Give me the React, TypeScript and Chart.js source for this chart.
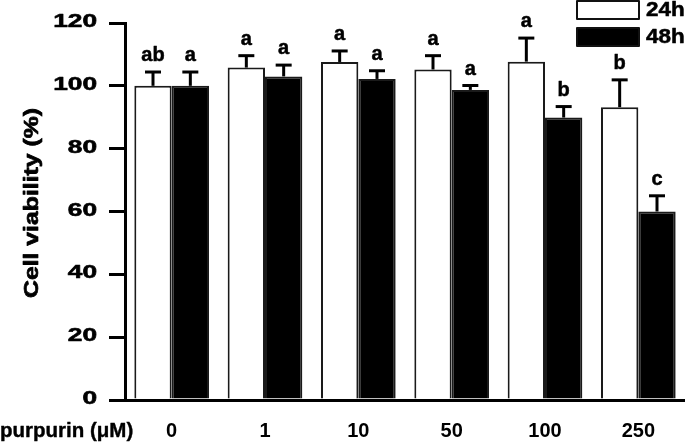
import React, { useEffect, useRef } from 'react';
import { Chart, registerables } from 'chart.js';
Chart.register(...registerables);

const categories = ['0', '1', '10', '50', '100', '250'];
const viability24h = [100, 105.8, 107.6, 105.2, 107.7, 93.2];
const error24h = [4.4, 3.8, 3.5, 4.4, 7.5, 8.7];
const letters24h = ['ab', 'a', 'a', 'a', 'a', 'b'];
const viability48h = [100, 103, 102.2, 98.7, 89.9, 60];
const error48h = [4.4, 3.6, 2.6, 1.4, 3.5, 5];
const letters48h = ['a', 'a', 'a', 'a', 'b', 'c'];
const yTicks = [0, 20, 40, 60, 80, 100, 120];
const seriesLabels = ['24h', '48h'];
const yTitle = 'Cell viability (%)';
const xTitle = 'purpurin (μM)';

const FAMILY = '"Liberation Sans", Arial, Helvetica, sans-serif';
const errors = [error24h, error48h];
const letters = [letters24h, letters48h];

function boldText(ctx: any, text: string, x: number, y: number, w = 0.7) {
  ctx.lineWidth = w;
  ctx.strokeStyle = '#000';
  ctx.lineJoin = 'round';
  ctx.strokeText(text, x, y);
  ctx.fillText(text, x, y);
}

const extrasPlugin = {
  id: 'extras',
  afterDatasetsDraw(chart: any) {
    const ctx = chart.ctx;
    const yScale = chart.scales.y;
    ctx.save();
    chart.data.datasets.forEach((ds: any, di: number) => {
      const meta = chart.getDatasetMeta(di);
      meta.data.forEach((bar: any, i: number) => {
        const v = ds.data[i];
        const e = errors[di][i];
        const yTop = yScale.getPixelForValue(v + e);
        const x = bar.x;
        ctx.strokeStyle = '#000';
        ctx.lineWidth = 3;
        ctx.beginPath();
        ctx.moveTo(x, bar.y);
        ctx.lineTo(x, yTop);
        ctx.stroke();
        ctx.beginPath();
        ctx.moveTo(x - 8, yTop);
        ctx.lineTo(x + 8, yTop);
        ctx.stroke();
        ctx.fillStyle = '#000';
        ctx.font = `bold 20px ${FAMILY}`;
        ctx.textAlign = 'center';
        ctx.textBaseline = 'alphabetic';
        boldText(ctx, letters[di][i], x, yTop - 11, 0.5);
      });
    });
    ctx.restore();
  },
  afterDraw(chart: any) {
    const ctx = chart.ctx;
    const yScale = chart.scales.y;
    ctx.save();
    ctx.fillStyle = '#000';
    // y tick labels
    ctx.font = `bold 18.5px ${FAMILY}`;
    ctx.textAlign = 'right';
    ctx.textBaseline = 'middle';
    yScale.ticks.forEach((t: any) => {
      const y = yScale.getPixelForValue(t.value);
      ctx.save();
      ctx.translate(97, y - 1);
      ctx.scale(1.42, 1);
      boldText(ctx, String(t.value), 0, 0, 0.6);
      ctx.restore();
    });
    // y title
    ctx.save();
    ctx.translate(33, 203);
    ctx.rotate(-Math.PI / 2);
    ctx.scale(1.27, 1);
    ctx.font = `bold 19.5px ${FAMILY}`;
    ctx.textAlign = 'center';
    ctx.textBaseline = 'middle';
    boldText(ctx, yTitle, 0, 0, 0.7);
    ctx.restore();
    // x title
    ctx.font = `bold 20.5px ${FAMILY}`;
    ctx.textAlign = 'left';
    ctx.textBaseline = 'middle';
    boldText(ctx, xTitle, 0, 431, 0.4);
    // legend
    const boxes = [
      { y: 1, fill: '#fff' },
      { y: 28, fill: '#000' },
    ];
    boxes.forEach((b, i) => {
      ctx.fillStyle = b.fill;
      ctx.fillRect(577, b.y, 62, 18);
      ctx.strokeStyle = '#111';
      ctx.lineWidth = 2;
      ctx.strokeRect(577, b.y, 62, 18);
      ctx.fillStyle = '#000';
      ctx.save();
      ctx.translate(646, b.y + 10);
      ctx.scale(1.15, 1);
      ctx.font = `bold 19.5px ${FAMILY}`;
      ctx.textAlign = 'left';
      ctx.textBaseline = 'middle';
      boldText(ctx, seriesLabels[i], 0, 0, 0.5);
      ctx.restore();
    });
    ctx.restore();
  },
};

export default function App() {
  const ref = useRef<HTMLCanvasElement>(null);
  useEffect(() => {
    if (!ref.current) return;
    const chart = new Chart(ref.current, {
      type: 'bar',
      data: {
        labels: categories,
        datasets: [
          {
            label: seriesLabels[0],
            data: viability24h,
            backgroundColor: '#ffffff',
            borderColor: '#1a1a1a',
            borderWidth: 2,
            barPercentage: 1,
            categoryPercentage: 0.8,
          },
          {
            label: seriesLabels[1],
            data: viability48h,
            backgroundColor: '#000000',
            borderColor: '#1a1a1a',
            borderWidth: 2,
            barPercentage: 1,
            categoryPercentage: 0.8,
          },
        ],
      },
      options: {
        animation: false,
        responsive: false,
        devicePixelRatio: 1,
        layout: { padding: { top: 23, right: 0, left: 0, bottom: 0 } },
        plugins: { legend: { display: false }, tooltip: { enabled: false } },
        scales: {
          x: {
            type: 'category',
            z: 1,
            grid: { display: false, drawTicks: false },
            border: { display: true, color: '#000', width: 3 },
            ticks: {
              color: '#000',
              font: { family: FAMILY, size: 20, weight: 'bold' },
              padding: 19,
              maxRotation: 0,
              autoSkip: false,
            },
            afterFit: (s: any) => {
              s.height = 42;
            },
          },
          y: {
            min: 0,
            max: 120,
            z: 1,
            afterBuildTicks: (s: any) => {
              s.ticks = yTicks.map((v) => ({ value: v }));
            },
            ticks: { display: false },
            grid: {
              display: true,
              drawOnChartArea: false,
              drawTicks: true,
              tickLength: 16,
              color: '#000',
              lineWidth: 3,
            },
            border: { display: true, color: '#000', width: 3 },
            afterFit: (s: any) => {
              s.width = 125;
            },
          },
        },
      },
      plugins: [extrasPlugin],
    } as any);
    return () => chart.destroy();
  }, []);
  return (
    <div style={{ position: 'fixed', left: 0, top: 0, width: 685, height: 442, background: '#fff' }}>
      <canvas ref={ref} width={685} height={442} />
    </div>
  );
}
